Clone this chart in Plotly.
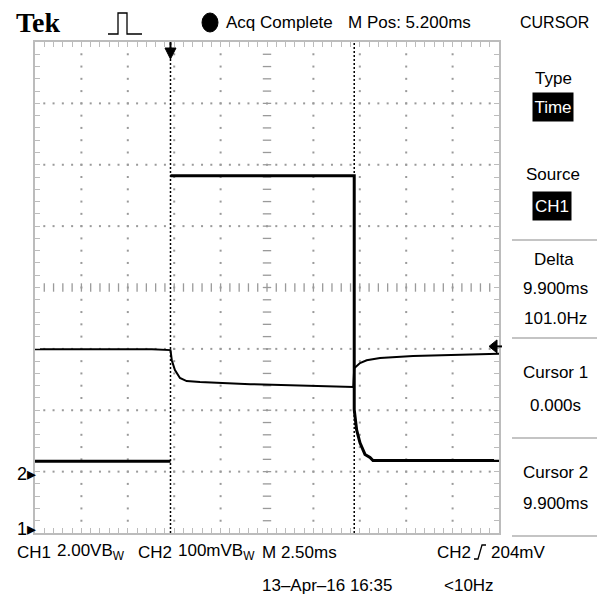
import plotly.graph_objects as go

# ---- scope settings -------------------------------------------------------
MS_PER_DIV = 2.5          # M 2.50ms
M_POS_MS = 5.2            # M Pos: 5.200ms (time at screen centre)
CH1_V_PER_DIV = 2.0       # CH1 2.00V
CH2_MV_PER_DIV = 100.0    # CH2 100mV
CH1_GROUND_DIV = -4.0     # "1" ground marker
CH2_GROUND_DIV = -3.0     # "2" ground marker
TRIG_POS_MS = 0.0
TRIG_LEVEL_MV = 204       # CH2 rising edge trigger
CURSOR_1_MS = 0.0
CURSOR_2_MS = 9.9

# ---- waveforms ------------------------------------------------------------
# CH1: supply rail, sags after switch-on and recovers after switch-off
ch1_t_ms = [-7.3, -4.0, -1.0, 0.0, 0.07, 0.24, 0.51, 0.87, 1.59, 4.3, 7.0,
            9.85, 9.9, 10.21, 10.57, 11.29, 13.07, 15.0, 17.0, 17.7]
ch1_volts = [5.99, 5.98, 5.99, 5.96, 5.63, 5.31, 5.05, 4.95, 4.92, 4.85, 4.80,
             4.76, 5.37, 5.54, 5.63, 5.70, 5.77, 5.80, 5.84, 5.84]

# CH2: gate pulse (rising edge at trigger, decaying fall at cursor 2)
ch2_t_ms = [-7.3, 0.0, None, 0.0, 9.9, 9.9, 10.03, 10.21, 10.48, 10.75,
            10.91, 17.7]
ch2_millivolts = [17, 17, None, 482, 482, 101, 68, 47, 28, 23, 18, 18]

# ---- styling --------------------------------------------------------------
FONT = "Liberation Sans, Arial, sans-serif"
FRAME = "#bcbcbc"
DOT = "#9a9a9a"
W, H = 597, 599
PL, PR, PT, PB = 35, 499, 42, 533   # graticule box in pixels
DIV_PX = (PB - PT) / 8

x0 = M_POS_MS - 5 * MS_PER_DIV
x1 = M_POS_MS + 5 * MS_PER_DIV


def px(x):
    return (x - PL) / (PR - PL)


def py(y):
    return (PB - y) / (PB - PT)


def to_div(values, per_div, ground):
    return [None if v is None else v / per_div + ground for v in values]


fig = go.Figure()

# graticule dots along the major divisions, tick dashes on the centre cross
major_x = [x0 + k * MS_PER_DIV for k in range(1, 10)]
minor_x = [x0 + k * MS_PER_DIV / 5 for k in range(1, 50)]
major_y = [float(k) for k in range(-3, 4)]
minor_y = [-4 + k * 0.2 for k in range(1, 40)]

dx, dy = [], []
for gx in major_x:
    if abs(gx - M_POS_MS) < 1e-9:
        continue
    for my in minor_y:
        dx.append(gx)
        dy.append(my)
for gy in major_y:
    if gy == 0:
        continue
    for mx in minor_x:
        dx.append(mx)
        dy.append(gy)
fig.add_trace(go.Scatter(x=dx, y=dy, mode="markers", hoverinfo="skip",
                         marker=dict(symbol="square", size=2, color=DOT,
                                     line=dict(width=0))))
fig.add_trace(go.Scatter(x=[M_POS_MS] * len(minor_y), y=minor_y, mode="markers",
                         hoverinfo="skip",
                         marker=dict(symbol="line-ew", size=6,
                                     line=dict(width=1.3, color=DOT))))
fig.add_trace(go.Scatter(x=minor_x, y=[0.0] * len(minor_x), mode="markers",
                         hoverinfo="skip",
                         marker=dict(symbol="line-ns", size=6,
                                     line=dict(width=1.3, color=DOT))))

# cursors
for c in (CURSOR_1_MS, CURSOR_2_MS):
    fig.add_shape(type="line", x0=c, x1=c, y0=-4, y1=4, xref="x", yref="y",
                  line=dict(color="black", width=1.5, dash="2px,2px"))

# waveforms
fig.add_trace(go.Scatter(x=ch2_t_ms, y=to_div(ch2_millivolts, CH2_MV_PER_DIV, CH2_GROUND_DIV),
                         mode="lines", line=dict(color="black", width=3),
                         connectgaps=False, hoverinfo="skip"))
fig.add_trace(go.Scatter(x=ch1_t_ms, y=to_div(ch1_volts, CH1_V_PER_DIV, CH1_GROUND_DIV),
                         mode="lines", line=dict(color="black", width=2),
                         hoverinfo="skip"))

ann = []


def label(text, x, y, size=17, anchor="center", color="black", bg=None,
          family=FONT, w=None, h=None):
    d = dict(text=text, x=px(x), y=py(y), xref="paper", yref="paper",
             xanchor=anchor, yanchor="middle", showarrow=False,
             font=dict(family=family, size=size, color=color), borderpad=0)
    if bg:
        d["bgcolor"] = bg
    if w:
        d["width"] = w
    if h:
        d["height"] = h
    ann.append(d)


# header
label("<b>Tek</b>", 15, 23, size=28, anchor="left",
      family="Liberation Serif, DejaVu Serif, serif")
label("Acq Complete", 225, 22, size=17, anchor="left")
label(f"M Pos: {M_POS_MS:.3f}ms", 347, 22, size=17, anchor="left")
label("CURSOR", 554, 22, size=16)

# cursor menu
delta = CURSOR_2_MS - CURSOR_1_MS
label("Type", 553, 78)
label("Time", 553, 107, color="white", bg="black", w=40, h=28)
label("Source", 553, 175)
label("CH1", 552, 206, color="white", bg="black", w=38, h=28)
label("Delta", 554, 259)
label(f"{delta:.3f}ms", 555, 288)
label(f"{1000.0 / delta:.1f}Hz", 555, 318)
label("Cursor 1", 555, 373)
label(f"{CURSOR_1_MS / 1000:.3f}s", 555, 405)
label("Cursor 2", 555, 472)
label(f"{CURSOR_2_MS:.3f}ms", 555, 503)

# channel ground markers
label("2▸", 16, 474, size=18, anchor="left")
label("1▸", 16, 529, size=18, anchor="left")

# status line
label("CH1", 16, 552, anchor="left")
label(f"{CH1_V_PER_DIV:.2f}VB<sub>W</sub>", 56, 552, anchor="left")
label("CH2", 137, 552, anchor="left")
label(f"{CH2_MV_PER_DIV:.0f}mVB<sub>W</sub>", 177, 552, anchor="left")
label(f"M {MS_PER_DIV:.2f}ms", 261, 552, anchor="left")
label("CH2", 436, 552, anchor="left")
label(f"{TRIG_LEVEL_MV}mV", 490, 552, anchor="left")
label("13–Apr–16 16:35", 261, 585, anchor="left")
label("&lt;10Hz", 443, 585, anchor="left")

shapes = []
# menu separators
for yy in (42, 140, 240, 338, 438, 536):
    shapes.append(dict(type="line", xref="paper", yref="paper",
                       x0=px(512), x1=px(597), y0=py(yy), y1=py(yy),
                       line=dict(color="#c4c4c4", width=2)))


def path(points, close=False):
    s = "M" + " L".join(f"{px(a):.5f},{py(b):.5f}" for a, b in points)
    return s + (" Z" if close else "")


# acquisition-running dot
shapes.append(dict(type="circle", xref="paper", yref="paper",
                   x0=px(202), x1=px(218), y0=py(32), y1=py(13),
                   fillcolor="black", line=dict(color="black", width=1)))
# acquisition status icon
shapes.append(dict(type="path", xref="paper", yref="paper",
                   path=path([(108, 34), (118, 34), (118, 13), (127, 13),
                              (127, 34), (142, 34)]),
                   line=dict(color="black", width=1.3)))
# rising-edge trigger slope icon
shapes.append(dict(type="path", xref="paper", yref="paper",
                   path=path([(474, 559), (478, 559), (482, 545), (486, 545)]),
                   line=dict(color="black", width=1.3)))

# trigger position marker (top edge, pointing down)
tx = TRIG_POS_MS
hw = 5.5 / 18.56 * MS_PER_DIV / 2.5
shapes.append(dict(type="line", xref="x", yref="paper", x0=tx, x1=tx,
                   y0=py(42), y1=py(50), line=dict(color="black", width=2)))
shapes.append(dict(type="path", xref="x", yref="paper",
                   path=f"M{tx - hw:.4f},{py(48):.5f} L{tx + hw:.4f},{py(48):.5f} "
                        f"L{tx:.4f},{py(59):.5f} Z",
                   fillcolor="black", line=dict(color="black", width=1)))

# trigger level marker (right edge, pointing left)
ty = TRIG_LEVEL_MV / CH2_MV_PER_DIV + CH2_GROUND_DIV
hh = 6.5 / DIV_PX
shapes.append(dict(type="path", xref="paper", yref="y",
                   path=f"M{px(489):.5f},{ty:.4f} L{px(497):.5f},{ty + hh:.4f} "
                        f"L{px(497):.5f},{ty - hh:.4f} Z",
                   fillcolor="black", line=dict(color="black", width=1)))
shapes.append(dict(type="line", xref="paper", yref="y", x0=px(494), x1=px(502),
                   y0=ty, y1=ty, line=dict(color="black", width=2)))

fig.update_layout(
    width=W, height=H, showlegend=False,
    margin=dict(l=PL, r=W - PR, t=PT, b=H - PB),
    paper_bgcolor="white", plot_bgcolor="white",
    annotations=ann, shapes=shapes,
    xaxis=dict(range=[x0, x1], showgrid=False, zeroline=False, showline=True,
               mirror="ticks", linecolor=FRAME, linewidth=1.5, ticks="inside",
               ticklen=5, tickwidth=1.3, tickcolor=FRAME, tick0=x0,
               dtick=MS_PER_DIV / 5, showticklabels=False, fixedrange=True),
    yaxis=dict(range=[-4, 4], showgrid=False, zeroline=False, showline=True,
               mirror="ticks", linecolor=FRAME, linewidth=1.5, ticks="inside",
               ticklen=5, tickwidth=1.3, tickcolor=FRAME, tick0=-4, dtick=0.2,
               showticklabels=False, fixedrange=True),
)

fig.write_html("out.html")
